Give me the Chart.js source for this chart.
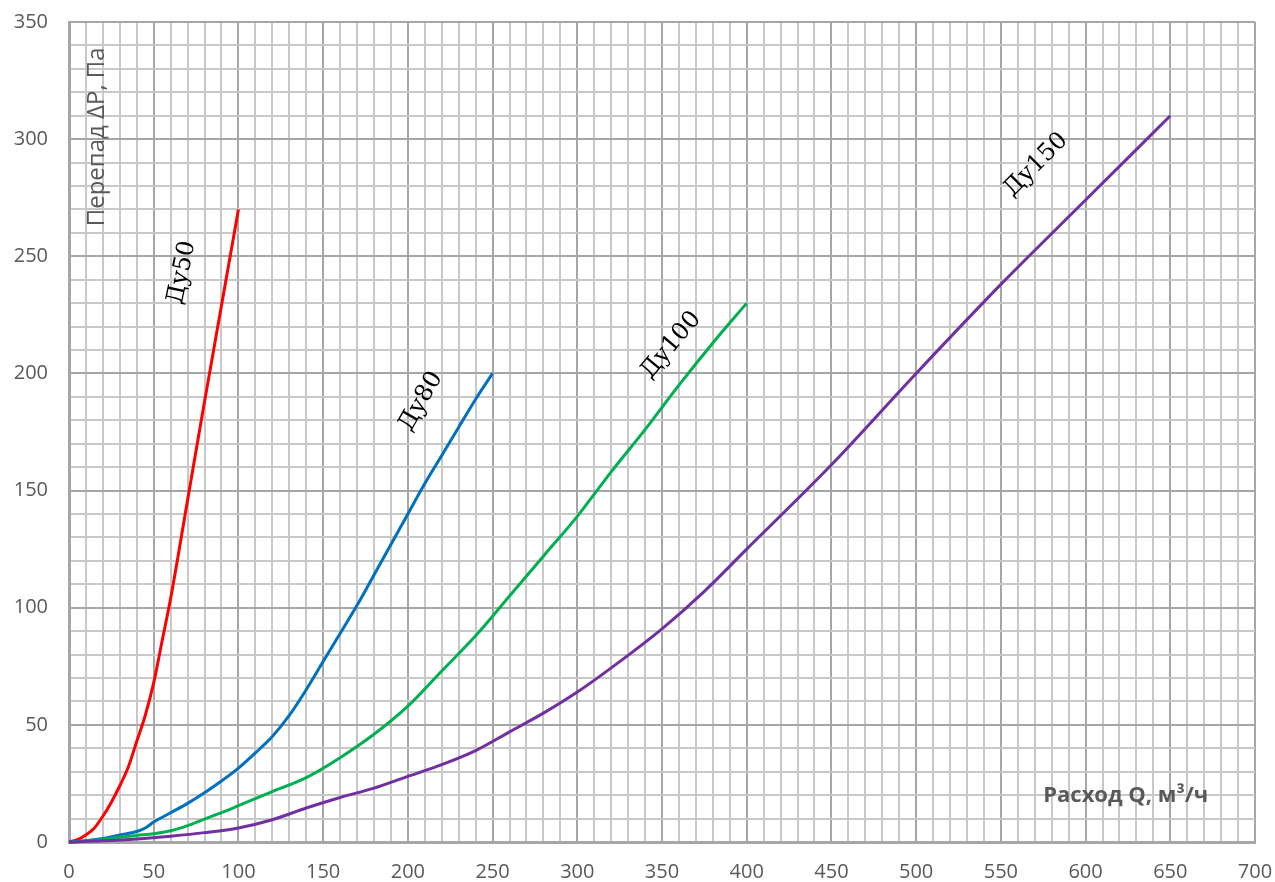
<!DOCTYPE html>
<html lang="ru">
<head>
<meta charset="utf-8">
<title>Перепад давления</title>
<script src="https://cdn.jsdelivr.net/npm/chart.js@4.4.0/dist/chart.umd.min.js"></script>
<style>
  html, body { margin: 0; padding: 0; background: #ffffff; }
  #wrap { width: 1275px; height: 882px; }
</style>
</head>
<body>
<div id="wrap"><canvas id="dpChart" width="1275" height="882"></canvas></div>
<script>
// Данные (Q, м3/ч -> ΔP, Па)
const du50X  = [0, 5, 10, 15, 20, 25, 30, 35, 40, 45, 50, 55, 60, 70, 80, 90, 100];
const du50Y  = [0, 1, 3, 6, 11, 17, 24, 32, 43, 54, 68, 86, 104, 146, 188, 229, 270];

const du80X  = [0, 10, 20, 30, 40, 45, 50, 60, 70, 80, 90, 100, 110, 120, 130, 140, 150, 160, 170, 180, 190, 200, 210, 220, 230, 240, 250];
const du80Y  = [0, 0.5, 1.5, 3, 4.5, 6, 8.5, 12.5, 16.5, 21, 26, 31.5, 38, 45, 54, 65, 77, 89, 101, 114, 127, 140, 153, 165, 177, 189, 200];

const du100X = [0, 10, 20, 30, 40, 50, 60, 70, 80, 90, 100, 120, 140, 160, 180, 200, 220, 240, 260, 280, 300, 320, 340, 360, 380, 400];
const du100Y = [0, 0.5, 1, 2, 2.8, 3.5, 4.8, 7, 9.8, 12.5, 15.5, 21.5, 27.5, 36, 46, 58, 73, 88, 105, 122, 139, 158, 176, 195, 213, 230];

const du150X = [0, 20, 40, 60, 80, 100, 120, 140, 160, 180, 200, 220, 240, 260, 280, 300, 325, 350, 375, 400, 450, 500, 550, 600, 650];
const du150Y = [0, 0.5, 1.3, 2.5, 4, 6, 9.5, 14.5, 19, 23, 28, 33, 39, 47, 55, 64, 77, 91, 107, 125, 161, 200, 238, 274, 310];

const seriesNames  = ['Ду50', 'Ду80', 'Ду100', 'Ду150'];
const seriesColors = ['#ff0000', '#0070c0', '#00b050', '#7030a0'];

// Подписи на поле графика (в координатах данных)
const curveLabels = [
  { text: 'Ду50',  x: 66.7,  y: 243, angle: -78 },
  { text: 'Ду80',  x: 207.8, y: 188, angle: -60 },
  { text: 'Ду100', x: 355.4, y: 212, angle: -50 },
  { text: 'Ду150', x: 570.8, y: 289, angle: -45 }
];
const yTitle = { text: 'Перепад ΔР, Па', x: 16.5, y: 301 };
const xTitle = { text: 'Расход Q, м³/ч', x: 623.7, y: 19.6 };

function toPoints(xs, ys) {
  return xs.map(function(x, i) { return { x: x, y: ys[i] }; });
}

const allX = [du50X, du80X, du100X, du150X];
const allY = [du50Y, du80Y, du100Y, du150Y];

const datasets = seriesNames.map(function(name, i) {
  return {
    label: name,
    data: toPoints(allX[i], allY[i]),
    borderColor: seriesColors[i],
    backgroundColor: seriesColors[i],
    borderWidth: 3,
    pointRadius: 0,
    cubicInterpolationMode: 'monotone',
    fill: false,
    clip: false,
    order: 3 - i
  };
});

// Плагин для текстовых подписей
const textLabels = {
  id: 'textLabels',
  afterDatasetsDraw: function(chart) {
    const ctx = chart.ctx;
    const xs = chart.scales.x;
    const ys = chart.scales.y;
    ctx.save();
    ctx.textAlign = 'center';
    ctx.textBaseline = 'middle';

    ctx.fillStyle = '#000000';
    ctx.font = '24px "DejaVu Serif", serif';
    curveLabels.forEach(function(l) {
      ctx.save();
      ctx.translate(xs.getPixelForValue(l.x), ys.getPixelForValue(l.y));
      ctx.rotate(l.angle * Math.PI / 180);
      ctx.fillText(l.text, 0, 0);
      ctx.restore();
    });

    ctx.fillStyle = '#595959';
    ctx.font = '24px "Open Sans", sans-serif';
    ctx.save();
    ctx.translate(xs.getPixelForValue(yTitle.x), ys.getPixelForValue(yTitle.y));
    ctx.rotate(-Math.PI / 2);
    ctx.fillText(yTitle.text, 0, 0);
    ctx.restore();

    ctx.font = 'bold 22px "Open Sans", sans-serif';
    ctx.fillText(xTitle.text, xs.getPixelForValue(xTitle.x), ys.getPixelForValue(xTitle.y));
    ctx.restore();
  }
};

const whiteBg = {
  id: 'whiteBg',
  beforeDraw: function(chart) {
    const ctx = chart.ctx;
    ctx.save();
    ctx.fillStyle = '#ffffff';
    ctx.fillRect(0, 0, chart.width, chart.height);
    ctx.restore();
  }
};

function gridColor(c) {
  return c.tick && c.tick.value % 50 === 0 ? '#a6a6a6' : '#c8c8c8';
}

const tickFont = { family: "'Open Sans', sans-serif", size: 20 };

const ctx = document.getElementById('dpChart').getContext('2d');
new Chart(ctx, {
  type: 'line',
  data: { datasets: datasets },
  options: {
    responsive: false,
    animation: false,
    devicePixelRatio: 1,
    layout: { padding: { top: 22, right: 20, left: 0, bottom: 0 } },
    scales: {
      x: {
        type: 'linear',
        min: 0,
        max: 700,
        afterFit: function(scale) {
          scale.height = 40;
          scale.paddingLeft = 0;
          scale.paddingRight = 0;
        },
        ticks: {
          stepSize: 10,
          autoSkip: false,
          maxRotation: 0,
          padding: 18,
          color: '#595959',
          font: tickFont,
          callback: function(v) { return v % 50 === 0 ? String(v) : ''; }
        },
        grid: { color: gridColor, lineWidth: 2, drawTicks: false },
        border: { display: true, color: '#a6a6a6', width: 3 }
      },
      y: {
        type: 'linear',
        min: 0,
        max: 350,
        afterFit: function(scale) {
          scale.width = 69;
          scale.paddingTop = 0;
          scale.paddingBottom = 0;
        },
        ticks: {
          stepSize: 10,
          autoSkip: false,
          padding: 21,
          color: '#595959',
          font: tickFont,
          callback: function(v) { return v % 50 === 0 ? String(v) : ''; }
        },
        grid: { color: gridColor, lineWidth: 2, drawTicks: false },
        border: { display: true, color: '#a6a6a6', width: 3 }
      }
    },
    plugins: {
      legend: { display: false },
      tooltip: { enabled: false }
    }
  },
  plugins: [whiteBg, textLabels]
});
</script>
</body>
</html>
